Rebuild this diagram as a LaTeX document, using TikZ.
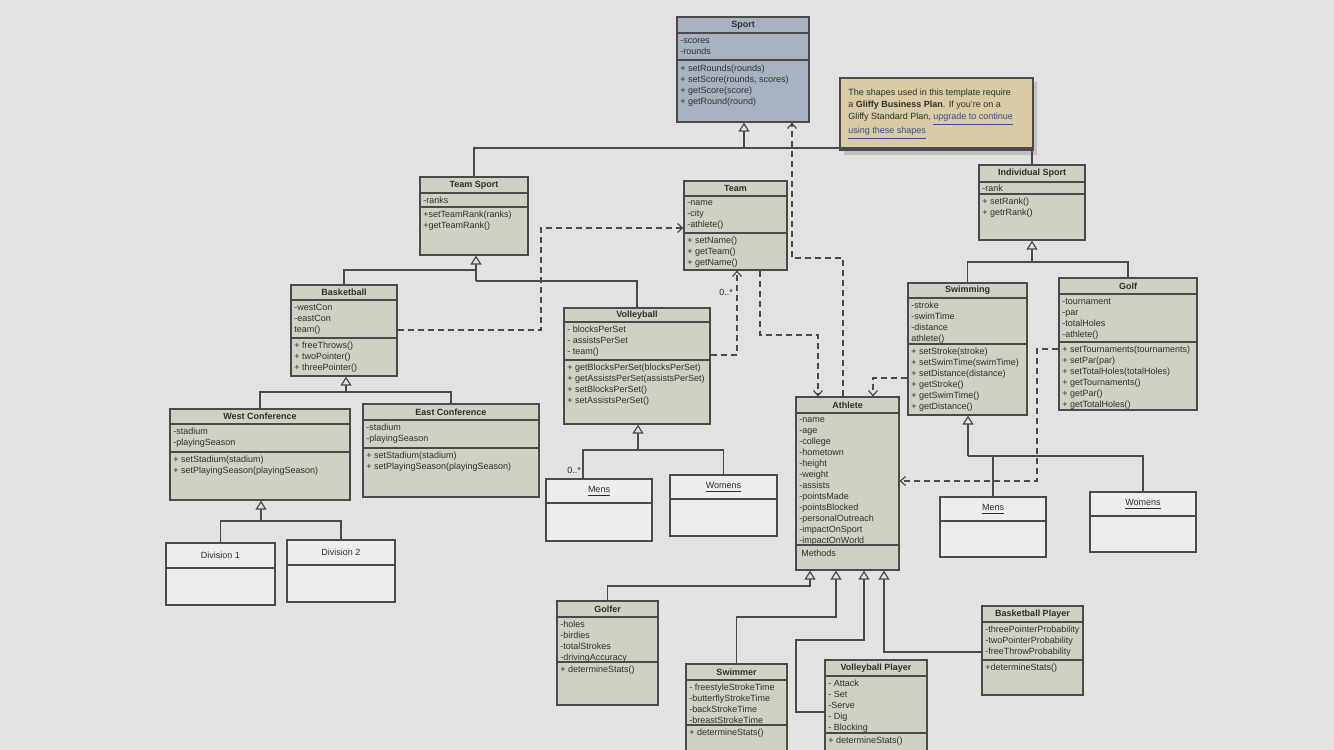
\documentclass[tikz,border=0pt]{standalone}
\usepackage{fontspec}
\setmainfont{Liberation Sans}
\usetikzlibrary{fit,arrows.meta}
\definecolor{paper}{HTML}{E3E1E1}
\definecolor{clsfill}{HTML}{CDD2C2}
\definecolor{sportfill}{HTML}{A8B3C2}
\definecolor{whitebox}{HTML}{EEEDEB}
\definecolor{notefill}{HTML}{D9CBA4}
\definecolor{linec}{HTML}{4A4A4A}
\definecolor{txt}{HTML}{2E2E2E}
\definecolor{linkc}{HTML}{3A4C8C}
\newcommand{\cfs}{\fontsize{4.5pt}{5.5pt}\selectfont}
\newcommand{\umlbox}[9]{%
  \node[cls, fill=#8, fit={(#2,#3) (#4,#5)}] (#1) {};
  \draw[sepl] (#2,#6) -- (#4,#6);
  \draw[sepl] (#2,#7) -- (#4,#7);
  \node[ttl] (#1-t) at ({(#2+#4)/2},{(#3+#6)/2}) {#9};
}
\tikzset{
  cls/.style={draw=linec, line width=0.6pt, inner sep=0pt},
  sepl/.style={draw=linec, line width=0.6pt},
  ttl/.style={font=\cfs\bfseries, text=txt, inner sep=0pt},
  utl/.style={font=\cfs, text=txt, inner sep=0pt},
  lst/.style={font=\cfs, text=txt, anchor=north west, align=left, inner sep=0pt},
  conn/.style={draw=linec, line width=0.6pt},
  gen/.style={conn, -{Triangle[length=4.5pt,width=5.5pt,fill=paper,line width=0.6pt]}},
  dep/.style={conn, dash pattern=on 3pt off 2pt, -{Straight Barb[length=2.5pt,width=4.5pt]}},
  lbl/.style={font=\cfs, text=txt, inner sep=0pt},
}
\begin{document}
\begin{tikzpicture}[x=0.5pt,y=-0.5pt]
\clip (0,0) rectangle (1334,750);
\fill[paper] (0,0) rectangle (1334,750);

% ---------- boxes ----------
\umlbox{sport}{677}{17}{809}{122}{33}{60}{sportfill}{Sport}
\node[lst] (sport-a) at (680,38) {-scores\\-rounds};
\node[lst] (sport-m) at (680,65) {+ setRounds(rounds)\\+ setScore(rounds, scores)\\+ getScore(score)\\+ getRound(round)};

\fill[black, opacity=0.15] (844,82) rectangle (1037,155);
\node[cls, fill=notefill, fit={(840,78) (1033,150)}] (note) {};
\node[lst, font=\fontsize{4.5pt}{5.9pt}\selectfont] (note-t) at (848,89) {The shapes used in this template require\\a \textbf{Gliffy Business Plan}.  If you're on a\\Gliffy Standard Plan, \textcolor{linkc}{\underline{upgrade to continue}}\\\textcolor{linkc}{\underline{using these shapes}}};

\umlbox{teamsport}{420}{177}{528}{255}{193}{207}{clsfill}{Team Sport}
\node[lst] (teamsport-a) at (423,197) {-ranks};
\node[lst] (teamsport-m) at (423,211) {+setTeamRank(ranks)\\+getTeamRank()};

\umlbox{team}{684}{181}{787}{270}{196}{233}{clsfill}{Team}
\node[lst] (team-a) at (687,200) {-name\\-city\\-athlete()};
\node[lst] (team-m) at (687,237) {+ setName()\\+ getTeam()\\+ getName()};

\umlbox{indsport}{979}{165}{1085}{240}{182}{194}{clsfill}{Individual Sport}
\node[lst] (indsport-a) at (982,185) {-rank};
\node[lst] (indsport-m) at (982,198) {+ setRank()\\+ getrRank()};

\umlbox{basketball}{291}{285}{397}{376}{300}{338}{clsfill}{Basketball}
\node[lst] (basketball-a) at (294,304) {-westCon\\-eastCon\\team()};
\node[lst] (basketball-m) at (294,342) {+ freeThrows()\\+ twoPointer()\\+ threePointer()};

\umlbox{volleyball}{564}{308}{710}{424}{322}{360}{clsfill}{Volleyball}
\node[lst] (volleyball-a) at (567,326) {- blocksPerSet\\- assistsPerSet\\- team()};
\node[lst] (volleyball-m) at (567,364) {+ getBlocksPerSet(blocksPerSet)\\+ getAssistsPerSet(assistsPerSet)\\+ setBlocksPerSet()\\+ setAssistsPerSet()};

\umlbox{swimming}{908}{283}{1027}{415}{298}{344}{clsfill}{Swimming}
\node[lst] (swimming-a) at (911,302) {-stroke\\-swimTime\\-distance\\athlete()};
\node[lst] (swimming-m) at (911,348) {+ setStroke(stroke)\\+ setSwimTime(swimTime)\\+ setDistance(distance)\\+ getStroke()\\+ getSwimTime()\\+ getDistance()};

\umlbox{golf}{1059}{278}{1197}{410}{294}{342}{clsfill}{Golf}
\node[lst] (golf-a) at (1062,298) {-tournament\\-par\\-totalHoles\\-athlete()};
\node[lst] (golf-m) at (1062,346) {+ setTournaments(tournaments)\\+ setPar(par)\\+ setTotalHoles(totalHoles)\\+ getTournaments()\\+ getPar()\\+ getTotalHoles()};

\umlbox{athlete}{796}{397}{899}{570}{413}{545}{clsfill}{Athlete}
\node[lst] (athlete-a) at (799,417) {-name\\-age\\-college\\-hometown\\-height\\-weight\\-assists\\-pointsMade\\-pointsBlocked\\-personalOutreach\\-impactOnSport\\-impactOnWorld};
\node[lst] (athlete-m) at (801,550) {Methods};

\umlbox{west}{170}{409}{350}{500}{424}{452}{clsfill}{West Conference}
\node[lst] (west-a) at (173,428) {-stadium\\-playingSeason};
\node[lst] (west-m) at (173,456) {+ setStadium(stadium)\\+ setPlayingSeason(playingSeason)};

\umlbox{east}{363}{404}{539}{497}{420}{448}{clsfill}{East Conference}
\node[lst] (east-a) at (366,424) {-stadium\\-playingSeason};
\node[lst] (east-m) at (366,452) {+ setStadium(stadium)\\+ setPlayingSeason(playingSeason)};

\umlbox{div1}{166}{543}{275}{605}{568}{568}{whitebox}{}
\node[utl] (div1-l) at (div1-t) {Division 1};
\umlbox{div2}{287}{540}{395}{602}{565}{565}{whitebox}{}
\node[utl] (div2-l) at (div2-t) {Division 2};

\umlbox{mens1}{546}{479}{652}{541}{503}{503}{whitebox}{}
\node[utl] (mens1-l) at (mens1-t) {\underline{Mens}};
\umlbox{womens1}{670}{475}{777}{536}{499}{499}{whitebox}{}
\node[utl] (womens1-l) at (womens1-t) {\underline{Womens}};
\umlbox{mens2}{940}{497}{1046}{557}{521}{521}{whitebox}{}
\node[utl] (mens2-l) at (mens2-t) {\underline{Mens}};
\umlbox{womens2}{1090}{492}{1196}{552}{516}{516}{whitebox}{}
\node[utl] (womens2-l) at (womens2-t) {\underline{Womens}};

\umlbox{golfer}{557}{601}{658}{705}{617}{662}{clsfill}{Golfer}
\node[lst] (golfer-a) at (560,621) {-holes\\-birdies\\-totalStrokes\\-drivingAccuracy};
\node[lst] (golfer-m) at (560,666) {+ determineStats()};

\umlbox{swimmer}{686}{664}{787}{770}{680}{725}{clsfill}{Swimmer}
\node[lst] (swimmer-a) at (689,684) {- freestyleStrokeTime\\-butterflyStrokeTime\\-backStrokeTime\\-breastStrokeTime};
\node[lst] (swimmer-m) at (689,729) {+ determineStats()};

\umlbox{vbplayer}{825}{660}{927}{770}{676}{733}{clsfill}{Volleyball Player}
\node[lst] (vbplayer-a) at (828,680) {- Attack\\- Set\\-Serve\\- Dig\\- Blocking};
\node[lst] (vbplayer-m) at (828,737) {+ determineStats()};

\umlbox{bbplayer}{982}{606}{1083}{695}{622}{660}{clsfill}{Basketball Player}
\node[lst] (bbplayer-a) at (985,626) {-threePointerProbability\\-twoPointerProbability\\-freeThrowProbability};
\node[lst] (bbplayer-m) at (985,664) {+determineStats()};

% ---------- generalizations ----------
\coordinate (jS) at (744,148);
\draw[conn] (teamsport.north) |- (jS);
\draw[conn] (indsport.north) |- (jS);
\draw[gen] (jS) -- (sport.south -| jS);

\coordinate (g1a) at (476,270);
\coordinate (g1b) at (476,281);
\draw[conn] (basketball.north) |- (g1a);
\draw[conn] (volleyball.north) |- (g1b);
\draw[gen] (g1b) -- (teamsport.south -| g1b);

\coordinate (g2) at (1032,262);
\draw[conn] (swimming.north) |- (g2);
\draw[conn] (golf.north) |- (g2);
\draw[gen] (g2) -- (indsport.south -| g2);

\coordinate (g3) at (346,392);
\draw[conn] (west.north) |- (g3);
\draw[conn] (east.north) |- (g3);
\draw[gen] (g3) -- (basketball.south -| g3);

\coordinate (g4) at (261,521);
\draw[conn] (div1.north) |- (g4);
\draw[conn] (div2.north) |- (g4);
\draw[gen] (g4) -- (west.south -| g4);

\coordinate (g5) at (638,450);
\coordinate (g5a) at (583,450);
\draw[conn] (mens1.north -| g5a) -- (g5a) -| (womens1.north);
\draw[gen] (g5) -- (volleyball.south -| g5);

\coordinate (g6) at (968,456);
\draw[conn] (g6) -| (womens2.north);
\draw[conn] (mens2.north) -- (mens2.north |- g6);
\draw[gen] (g6) -- (swimming.south -| g6);

\coordinate (h1) at (810,586);
\draw[gen] (golfer.north) |- (h1) -- (athlete.south -| h1);
\coordinate (h2) at (836,617);
\draw[gen] (swimmer.north) |- (h2) -- (athlete.south -| h2);
\coordinate (h3) at (864,640);
\coordinate (h3b) at (796,640);
\coordinate (h3c) at (796,712);
\draw[gen] (vbplayer.west |- h3c) -- (h3c) -- (h3b) -- (h3) -- (athlete.south -| h3);
\coordinate (h4) at (884,652);
\draw[gen] (bbplayer.west |- h4) -| (athlete.south -| h4);

% ---------- dependencies ----------
\coordinate (d1) at (843,258);
\coordinate (d2) at (792,258);
\draw[dep] (athlete.north -| d1) -- (d1) -- (d2) -- (sport.south -| d2);

\coordinate (d3) at (760,335);
\coordinate (d4) at (818,335);
\draw[dep] (team.south -| d3) -- (d3) -- (d4) -- (athlete.north -| d4);

\coordinate (d5) at (737,355);
\draw[dep] (volleyball.east |- d5) -- (d5) -- (team.south -| d5);

\coordinate (d6) at (541,330);
\coordinate (d7) at (541,228);
\draw[dep] (basketball.east |- d6) -- (d6) -- (d7) -- (team.west |- d7);

\coordinate (d8) at (873,378);
\draw[dep] (swimming.west |- d8) -- (d8) -- (athlete.north -| d8);

\coordinate (d9) at (1037,349);
\coordinate (d10) at (1037,481);
\draw[dep] (golf.west |- d9) -- (d9) -- (d10) -- (athlete.east |- d10);

% ---------- multiplicities ----------
\node[lbl] (m1) at (726,292) {0..*};
\node[lbl] (m2) at (574,470) {0..*};
\end{tikzpicture}
\end{document}
